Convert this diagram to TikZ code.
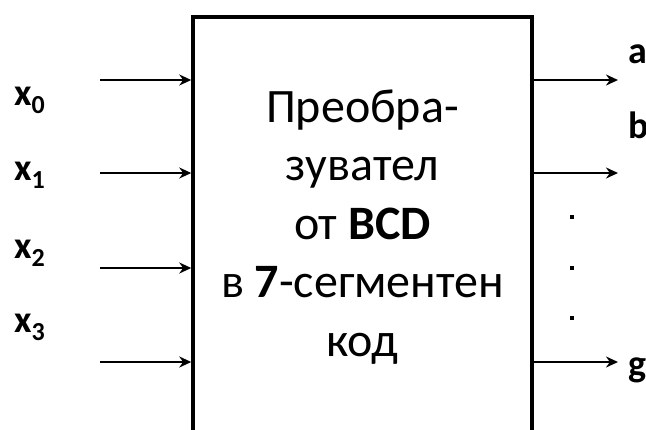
\documentclass[tikz,border=0pt]{standalone}
\usepackage{fontspec}
\setmainfont{Carlito}
\usetikzlibrary{arrows.meta, positioning}
\tikzstyle{block} = [draw=black, line width=3.5pt, minimum width=339pt, minimum height=423pt, inner sep=0pt]
\tikzstyle{blocktext} = [align=center, font=\fontsize{48}{58.5}\selectfont]
\tikzstyle{arrow} = [line width=2.8pt, -{Stealth[length=12pt,width=11pt]}]
\tikzstyle{sig} = [font=\bfseries\fontsize{38}{44}\selectfont, inner sep=0pt, anchor=base west]
\newcommand{\sigsub}[1]{\raisebox{-8pt}{\fontsize{26}{26}\selectfont #1}}

\begin{document}
\begin{tikzpicture}[x=1pt, y=-1pt]
\useasboundingbox (0,0) rectangle (646,429);
\clip (0,0) rectangle (646,429);

% Nodes
\node (conv) [block] at (362.5,228.5) {};
\node (convtext) [blocktext] at (362.5,227) {Преобра-\\зувател\\от \textbf{BCD}\\в \textbf{7}-сегментен\\код};

\node (x0) [sig] at (14,105) {x\sigsub{0}};
\node (x1) [sig] at (14,180) {x\sigsub{1}};
\node (x2) [sig] at (14,258) {x\sigsub{2}};
\node (x3) [sig] at (14,332) {x\sigsub{3}};

\node (a) [sig] at (628,63) {a};
\node (b) [sig] at (628,138) {b};
\node (g) [sig] at (628,376) {g};

% Arrows
\coordinate (in0) at (100,80);
\coordinate (in1) at (100,173);
\coordinate (in2) at (100,268);
\coordinate (in3) at (100,362);
\foreach \i in {0,...,3}
  \draw [arrow] (in\i) -- (in\i -| conv.west);

\coordinate (outa) at (618,80);
\coordinate (outb) at (618,173);
\coordinate (outg) at (618,362);
\foreach \o in {a,b,g}
  \draw [arrow] (out\o -| conv.east) -- (out\o);

% dots
\foreach \y in {217,268,318}
  \fill (570,\y-2) rectangle ++(4,4);

\end{tikzpicture}
\end{document}
